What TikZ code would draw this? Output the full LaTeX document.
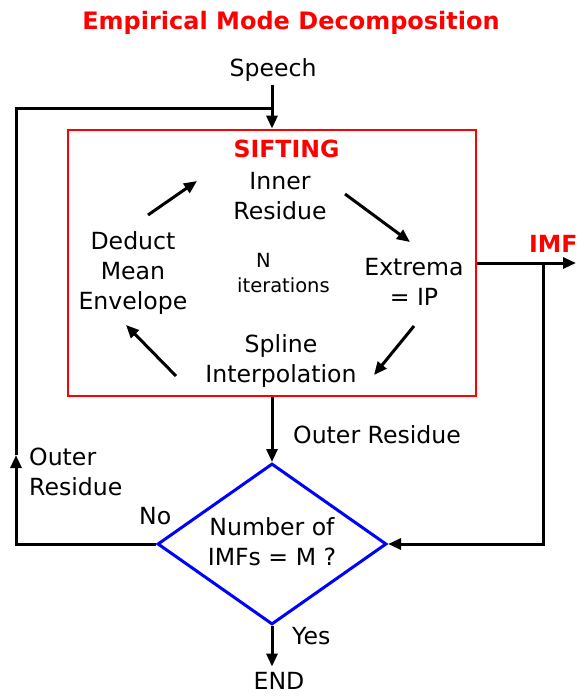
\documentclass[tikz,border=0pt]{standalone}
\usepackage{fontspec}
\setmainfont{DejaVu Sans}
\usetikzlibrary{arrows.meta,shapes.geometric}
\newcommand{\mkblk}[1]{\begin{tabular}[t]{@{}c@{}}#1\end{tabular}}
\newcommand{\mkblkl}[1]{\begin{tabular}[t]{@{}l@{}}#1\end{tabular}}
\begin{document}
\begin{tikzpicture}[x=1pt,y=-1pt,
  lbl/.style={inner sep=0pt, font=\fontsize{23.6}{30}\selectfont},
  small/.style={inner sep=0pt, font=\fontsize{19.5}{25}\selectfont},
  redtxt/.style={inner sep=0pt, text=red, font=\fontsize{23.6}{28}\selectfont\bfseries},
  line/.style={line width=3pt, black},
  arr/.style={line, -{Triangle[length=13pt,width=11pt]}},
]
\useasboundingbox (0,0) rectangle (588,696);
% title and input
\node[redtxt, anchor=base, font=\fontsize{24}{28}\selectfont\bfseries] (title) at (291,29) {Empirical Mode Decomposition};
\node[lbl, anchor=base] (speech) at (273,76) {Speech};
% sifting box
\node[draw=red, line width=2.8pt, minimum width=408pt, minimum height=266pt, inner sep=0pt] (sift) at (272,263) {};
\node[redtxt, anchor=base] (siftlbl) at (286.5,157) {SIFTING};
\node[lbl, anchor=base] (inner) at (280,189) {\mkblk{Inner\\Residue}};
\node[lbl, anchor=base] (extrema) at (414,275) {\mkblk{Extrema\\= IP}};
\node[lbl, anchor=base] (spline) at (281,352) {\mkblk{Spline\\Interpolation}};
\node[lbl, anchor=base] (deduct) at (133,249) {\mkblk{Deduct\\Mean\\Envelope}};
\node[small, anchor=base west] (iter) at (237,267) {\mkblkl{\hspace{19pt}N\\iterations}};
% cycle arrows
\coordinate (c1a) at (148,215); \coordinate (c1b) at (197,181);
\coordinate (c2a) at (345,194); \coordinate (c2b) at (410,242);
\coordinate (c3a) at (414,326); \coordinate (c3b) at (374,375);
\coordinate (c4a) at (176,376); \coordinate (c4b) at (126,325);
\draw[arr] (c1a) -- (c1b);
\draw[arr] (c2a) -- (c2b);
\draw[arr] (c3a) -- (c3b);
\draw[arr] (c4a) -- (c4b);
% decision
\node[draw=blue, line width=3pt, shape=diamond, aspect=1.42, minimum width=229pt, minimum height=161pt, inner sep=0pt, font=\fontsize{23.6}{30}\selectfont] (dec) at (272,544) {\begin{tabular}{@{}c@{}}Number of\\IMFs = M ?\end{tabular}};
\node[lbl, anchor=base] (end) at (279,689) {END};
% labels
\node[lbl, anchor=base west] (outerr) at (293,443) {Outer Residue};
\node[lbl, anchor=base west] (outerl) at (29,465) {\mkblkl{Outer\\Residue}};
\node[lbl, anchor=base west] (no) at (139,524) {No};
\node[lbl, anchor=base west] (yes) at (292,644) {Yes};
\node[redtxt, anchor=base west] (imf) at (529,252) {IMF};
% connectors
\coordinate (jtop) at (272,108);
\coordinate (lcorner) at (16,544);
\coordinate (lmid) at (16,455);
\coordinate (ltop) at (16,108);
\coordinate (imfj) at (543,263);
\coordinate (imfend) at (576,263);
\draw[arr] (sift.north |- speech.south) ++(0,3.5) -- (sift.north);
\draw[arr] (dec.west) -- (lcorner) -- (lmid);
\draw[line] (lmid) -- (ltop) -- (jtop);
\draw[arr] (sift.east) -- (imfend);
\draw[arr] (imfj) -- (imfj |- dec.east) -- (dec.east);
\draw[arr] (sift.south) -- (dec.north);
\draw[arr, shorten >=5pt] (dec.south) -- (dec.south |- end.north);
\end{tikzpicture}
\end{document}
